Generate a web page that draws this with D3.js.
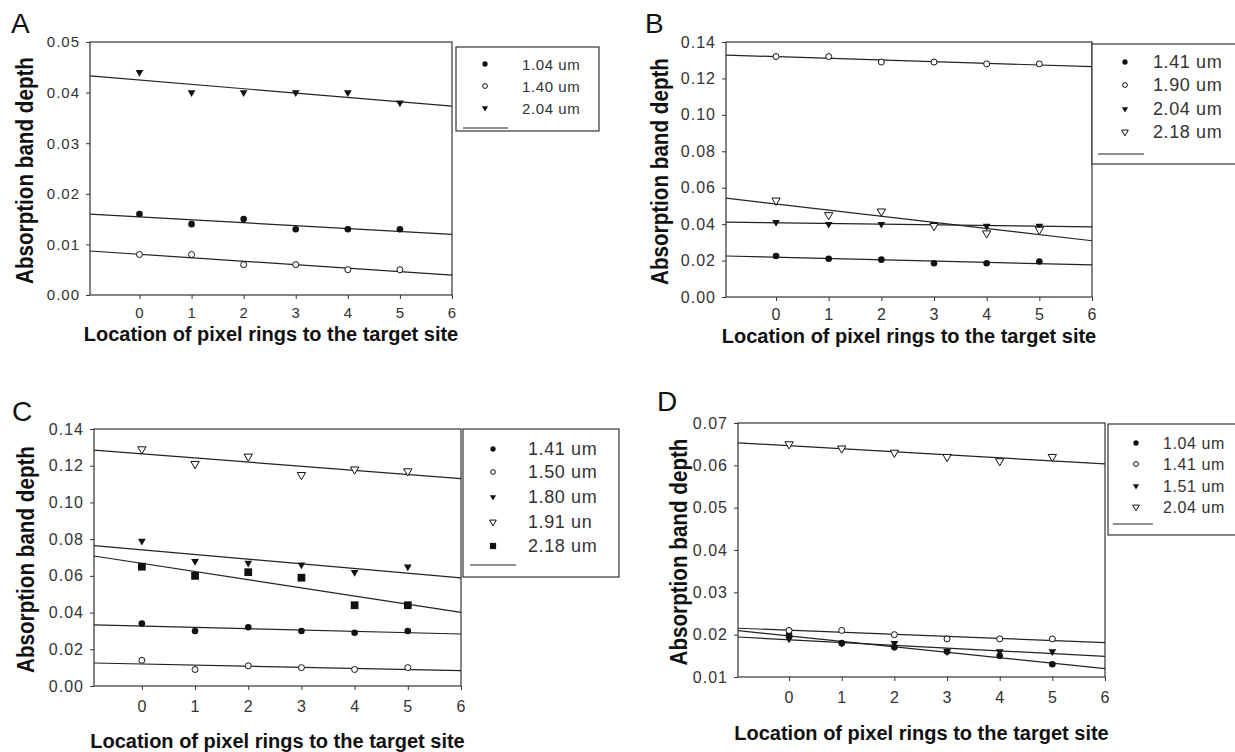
<!DOCTYPE html>
<html><head><meta charset="utf-8">
<script src="https://cdn.jsdelivr.net/npm/d3@7"></script>
<style>
html,body{margin:0;padding:0;background:#fff;}
svg{display:block;font-family:"Liberation Sans",Arial,sans-serif;}
</style></head>
<body>
<svg id="chart" width="1235" height="752"></svg>
<script>
// ---------- data ----------
const rings = [0, 1, 2, 3, 4, 5];
const xTickValues = [0, 1, 2, 3, 4, 5, 6];
const xTitle = "Location of pixel rings to the target site";
const yTitle = "Absorption band depth";

// Panel A
const aLabels = ["1.04 um", "1.40 um", "2.04 um"];
const aSeries104 = [0.016, 0.014, 0.015, 0.013, 0.013, 0.013];
const aSeries140 = [0.008, 0.008, 0.006, 0.006, 0.005, 0.005];
const aSeries204 = [0.044, 0.040, 0.040, 0.040, 0.040, 0.038];
const aYTicks = [0.00, 0.01, 0.02, 0.03, 0.04, 0.05];

// Panel B
const bLabels = ["1.41 um", "1.90 um", "2.04 um", "2.18 um"];
const bSeries141 = [0.0225, 0.021, 0.0205, 0.0185, 0.0185, 0.0195];
const bSeries190 = [0.132, 0.132, 0.129, 0.129, 0.128, 0.128];
const bSeries204 = [0.041, 0.040, 0.040, 0.040, 0.039, 0.039];
const bSeries218 = [0.053, 0.045, 0.047, 0.039, 0.035, 0.037];
const bYTicks = [0.00, 0.02, 0.04, 0.06, 0.08, 0.10, 0.12, 0.14];

// Panel C
const cLabels = ["1.41 um", "1.50 um", "1.80 um", "1.91 un", "2.18 um"];
const cSeries141 = [0.034, 0.030, 0.032, 0.030, 0.029, 0.030];
const cSeries150 = [0.014, 0.009, 0.011, 0.010, 0.009, 0.010];
const cSeries180 = [0.079, 0.068, 0.067, 0.066, 0.062, 0.065];
const cSeries191 = [0.129, 0.121, 0.125, 0.115, 0.118, 0.117];
const cSeries218 = [0.065, 0.060, 0.062, 0.059, 0.044, 0.044];
const cYTicks = [0.00, 0.02, 0.04, 0.06, 0.08, 0.10, 0.12, 0.14];

// Panel D
const dLabels = ["1.04 um", "1.41 um", "1.51 um", "2.04 um"];
const dSeries104 = [0.020, 0.018, 0.017, 0.016, 0.015, 0.013];
const dSeries141 = [0.021, 0.021, 0.020, 0.019, 0.019, 0.019];
const dSeries151 = [0.019, 0.018, 0.018, 0.016, 0.016, 0.016];
const dSeries204 = [0.065, 0.064, 0.063, 0.062, 0.061, 0.062];
const dYTicks = [0.01, 0.02, 0.03, 0.04, 0.05, 0.06, 0.07];

// ---------- layout / style ----------
const panels = [
  { letter: "A", lx: 11, ly: 33,
    left: 90, right: 452, top: 42, bottom: 295, xDomain: [-0.95, 6], yDomain: [0, 0.05], yTicks: aYTicks,
    tickFont: 15, xPad: 8, ytitleX: 25, xtitleY: 341,
    series: [aSeries104, aSeries140, aSeries204], labels: aLabels, shapes: ["dot", "ring", "tri", "otri"],
    leg: { x0: 456, y0: 47, x1: 599, y1: 131, mx: 485, tx: 522, rows: [64, 86, 108], lineY: 128, lx0: 463, lx1: 508, font: 15 } },
  { letter: "B", lx: 645, ly: 33,
    left: 726, right: 1092, top: 42, bottom: 297, xDomain: [-0.95, 6], yDomain: [0, 0.14], yTicks: bYTicks,
    tickFont: 16, xPad: 8, ytitleX: 660, xtitleY: 343,
    series: [bSeries141, bSeries190, bSeries204, bSeries218], labels: bLabels, shapes: ["dot", "ring", "tri", "otri"],
    leg: { x0: 1092, y0: 44, x1: 1245, y1: 164, mx: 1125, tx: 1153, rows: [62, 85, 109, 132], lineY: 154, lx0: 1098, lx1: 1144, font: 18 } },
  { letter: "C", lx: 12, ly: 421,
    left: 94, right: 461, top: 429, bottom: 686, xDomain: [-0.9, 6], yDomain: [0, 0.14], yTicks: cYTicks,
    tickFont: 16, xPad: 11, ytitleX: 26, xtitleY: 748,
    series: [cSeries141, cSeries150, cSeries180, cSeries191, cSeries218], labels: cLabels, shapes: ["dot", "ring", "tri", "otri", "sq"],
    leg: { x0: 463, y0: 429, x1: 619, y1: 577, mx: 493, tx: 528, rows: [449, 472, 497, 522, 546], lineY: 565, lx0: 470, lx1: 516, font: 18 } },
  { letter: "D", lx: 657, ly: 411,
    left: 738, right: 1105, top: 423, bottom: 677, xDomain: [-0.97, 6], yDomain: [0.01, 0.07], yTicks: dYTicks,
    tickFont: 16, xPad: 11, ytitleX: 679, xtitleY: 740,
    series: [dSeries104, dSeries141, dSeries151, dSeries204], labels: dLabels, shapes: ["dot", "ring", "tri", "otri"],
    leg: { x0: 1108, y0: 424, x1: 1245, y1: 535, mx: 1136, tx: 1163, rows: [443, 464, 486, 507], lineY: 524, lx0: 1113, lx1: 1153, font: 16 } }
];

const svg = d3.select("#chart");
const ink = "#111";

function regression(xs, ys) {
  const mx = d3.mean(xs), my = d3.mean(ys);
  let num = 0, den = 0;
  xs.forEach((x, i) => { num += (x - mx) * (ys[i] - my); den += (x - mx) * (x - mx); });
  const b = num / den;
  return { a: my - b * mx, b };
}

function drawMarker(g, shape, cx, cy, scale) {
  const s = scale || 1;
  if (shape === "dot") {
    g.append("circle").attr("cx", cx).attr("cy", cy).attr("r", 3.3 * s).attr("fill", ink);
  } else if (shape === "ring") {
    g.append("circle").attr("cx", cx).attr("cy", cy).attr("r", 3 * s).attr("fill", "#fff").attr("stroke", ink).attr("stroke-width", 1);
  } else if (shape === "tri") {
    g.append("path").attr("d", d3.symbol(d3.symbolTriangle, 26 * s * s)())
      .attr("transform", `translate(${cx},${cy}) rotate(180)`).attr("fill", ink);
  } else if (shape === "otri") {
    g.append("path").attr("d", d3.symbol(d3.symbolTriangle, 30 * s * s)())
      .attr("transform", `translate(${cx},${cy}) rotate(180)`).attr("fill", "#fff").attr("stroke", ink).attr("stroke-width", 1);
  } else if (shape === "sq") {
    g.append("path").attr("d", d3.symbol(d3.symbolSquare, 60 * s * s)())
      .attr("transform", `translate(${cx},${cy})`).attr("fill", ink);
  }
}

panels.forEach(p => {
  const g = svg.append("g");
  const x = d3.scaleLinear().domain(p.xDomain).range([p.left, p.right]);
  const y = d3.scaleLinear().domain(p.yDomain).range([p.bottom, p.top]);

  // frame
  g.append("rect").attr("x", p.left).attr("y", p.top).attr("width", p.right - p.left).attr("height", p.bottom - p.top)
    .attr("fill", "none").attr("stroke", "#333").attr("stroke-width", 1.2);

  // axes
  const ya = g.append("g").attr("transform", `translate(${p.left},0)`)
    .call(d3.axisLeft(y).tickValues(p.yTicks).tickSize(4).tickPadding(6).tickFormat(d3.format(".2f")));
  const xa = g.append("g").attr("transform", `translate(0,${p.bottom})`)
    .call(d3.axisBottom(x).tickValues(xTickValues).tickSize(4).tickPadding(p.xPad).tickFormat(d3.format("d")));
  [ya, xa].forEach(a => {
    a.select(".domain").remove();
    a.selectAll("line").attr("stroke", "#333");
    a.selectAll("text").attr("font-size", p.tickFont).attr("fill", "#333")
      .attr("font-family", "'Liberation Sans',Arial,sans-serif").style("letter-spacing", "1px");
  });

  // regression lines
  p.series.forEach(vals => {
    const r = regression(rings, vals);
    const xd = x.domain();
    g.append("line")
      .attr("x1", x(xd[0])).attr("y1", y(r.a + r.b * xd[0]))
      .attr("x2", x(xd[1])).attr("y2", y(r.a + r.b * xd[1]))
      .attr("stroke", "#222").attr("stroke-width", 1.2);
  });

  // points
  p.series.forEach((vals, si) => {
    vals.forEach((v, i) => drawMarker(g, p.shapes[si], x(rings[i]), y(v), 1));
  });

  // titles
  g.append("text").attr("x", p.lx).attr("y", p.ly).attr("font-size", 28).attr("fill", ink).text(p.letter);
  g.append("text").attr("transform", `translate(${p.ytitleX},${(p.top + p.bottom) / 2 + 2}) rotate(-90) scale(0.86,1)`)
    .attr("text-anchor", "middle").attr("dominant-baseline", "central")
    .attr("font-size", 24).attr("font-weight", "bold").attr("fill", ink).text(yTitle);
  g.append("text").attr("x", (p.left + p.right) / 2).attr("y", p.xtitleY)
    .attr("text-anchor", "middle").attr("font-size", 20).attr("font-weight", "bold").attr("fill", ink).text(xTitle);

  // legend
  const L = p.leg;
  g.append("rect").attr("x", L.x0).attr("y", L.y0).attr("width", L.x1 - L.x0).attr("height", L.y1 - L.y0)
    .attr("fill", "#fff").attr("stroke", "#333").attr("stroke-width", 1.2);
  p.labels.forEach((lab, i) => {
    drawMarker(g, p.shapes[i], L.mx, L.rows[i], 0.8);
    g.append("text").attr("x", L.tx).attr("y", L.rows[i]).attr("dominant-baseline", "central")
      .attr("font-size", L.font).attr("fill", "#333").style("letter-spacing", "0.6px").text(lab);
  });
  g.append("line").attr("x1", L.lx0).attr("x2", L.lx1).attr("y1", L.lineY).attr("y2", L.lineY)
    .attr("stroke", "#222").attr("stroke-width", 1.2);
});
</script>
</body></html>
